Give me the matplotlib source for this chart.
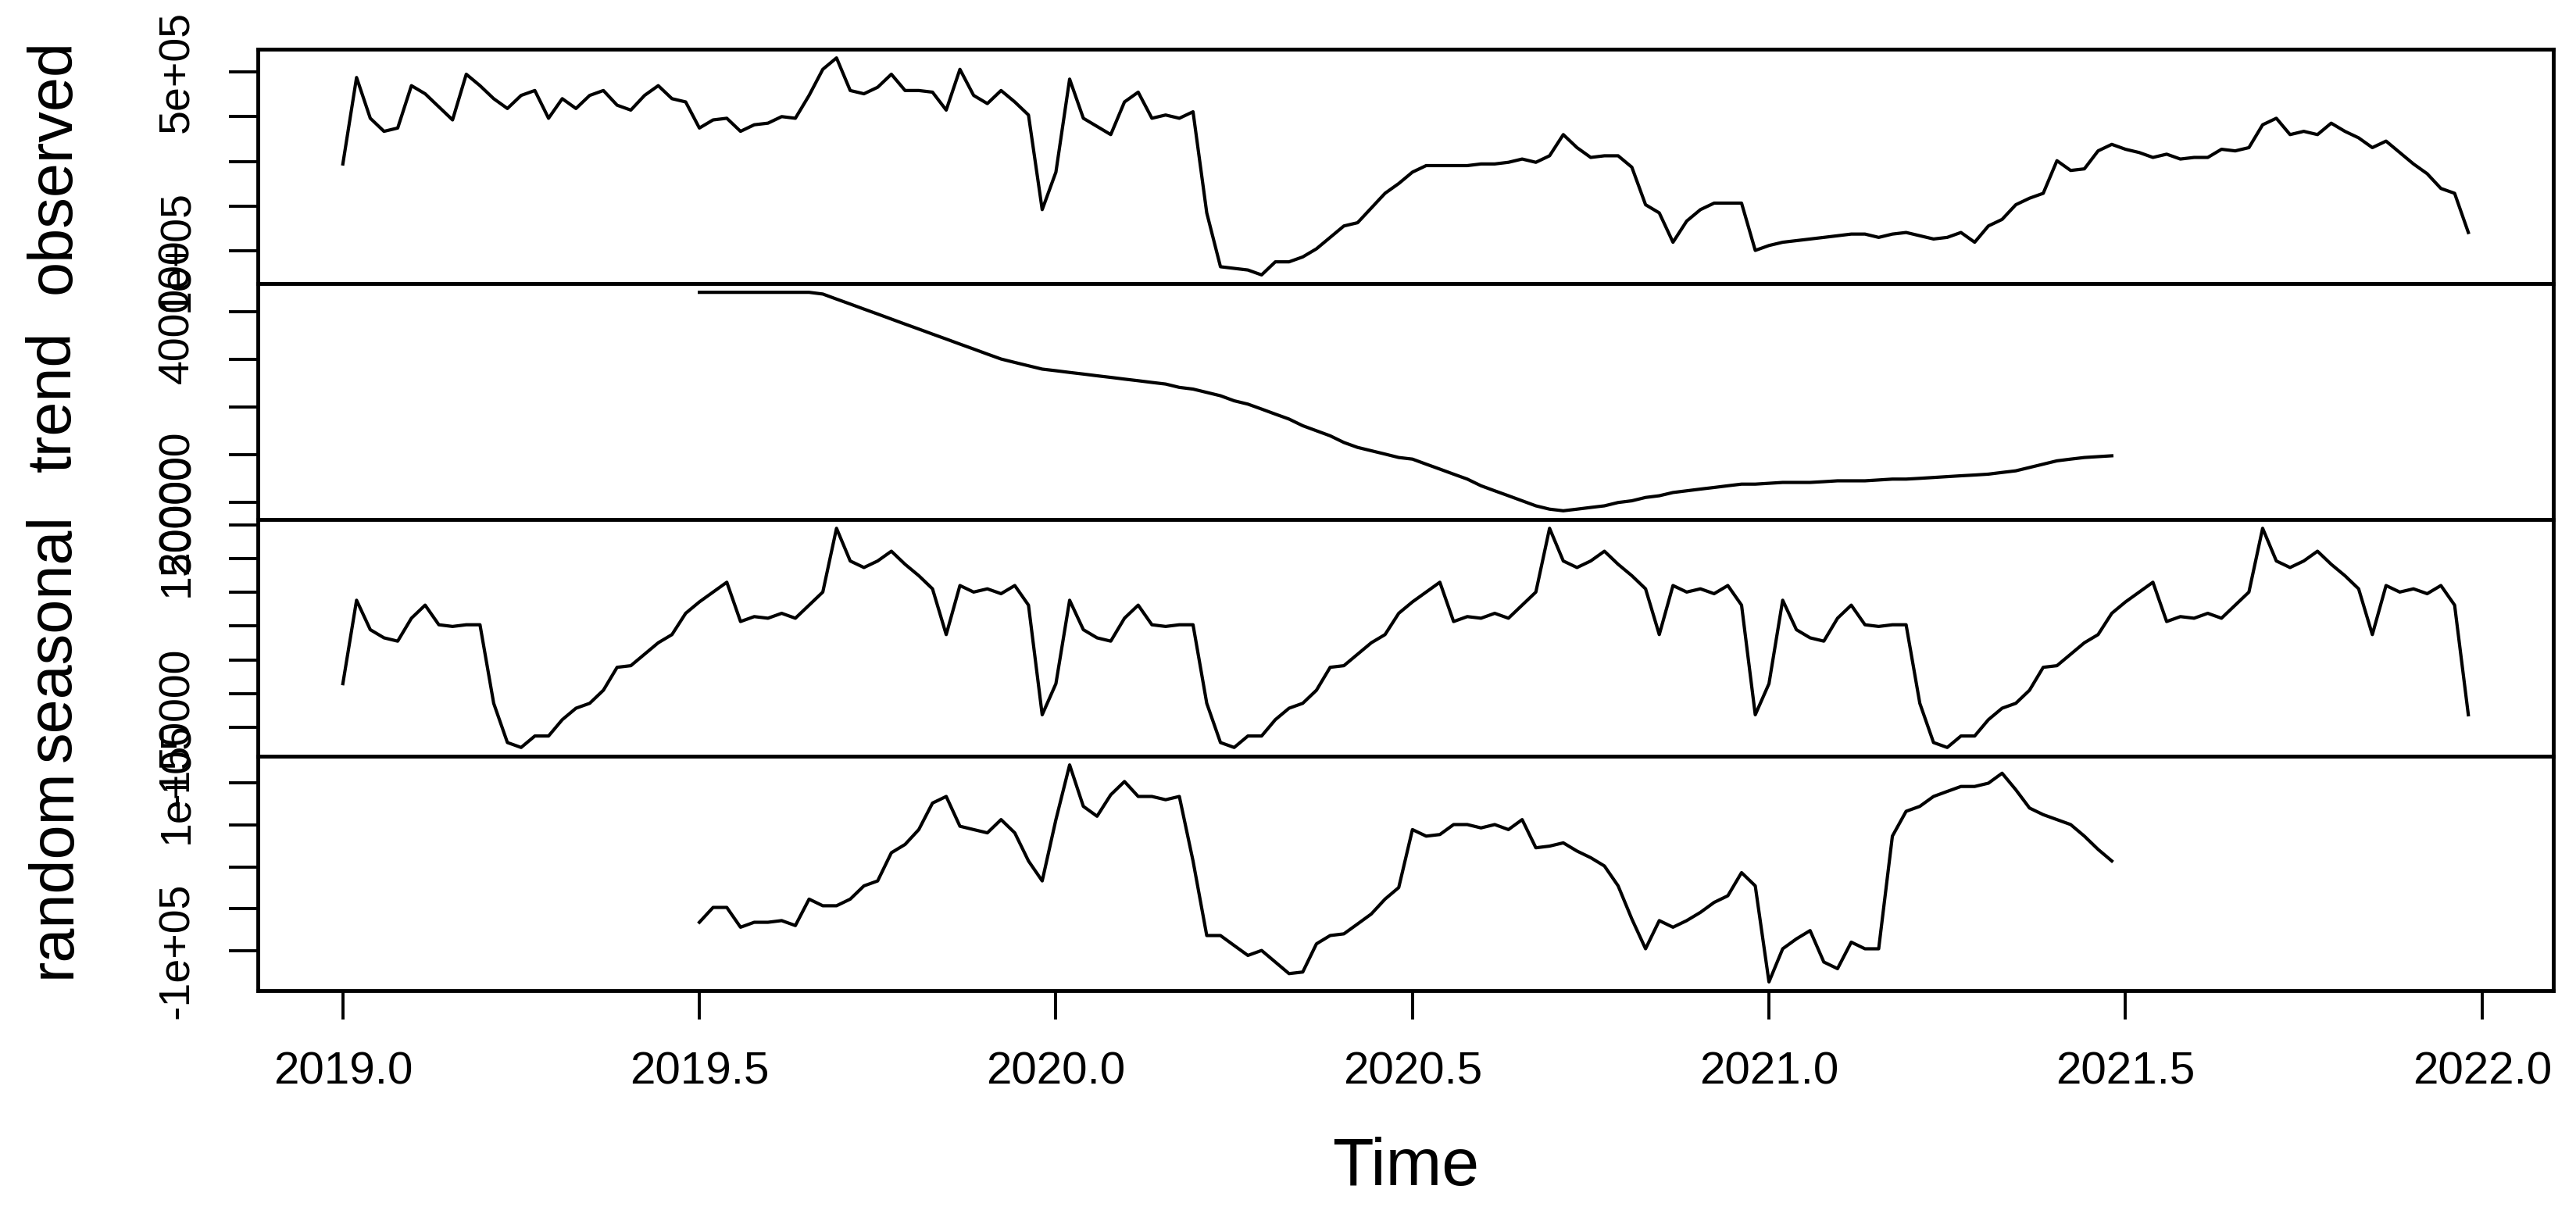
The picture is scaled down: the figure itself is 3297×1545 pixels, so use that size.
import numpy as np
import matplotlib
matplotlib.use("Agg")
import matplotlib.pyplot as plt

# ---------------- data (values in thousands) ----------------
start_year = 2019.0
frequency = 52
trend_offset = 26  # first non-NA index of trend / random

observed_k = [
    294.3, 488.1, 396.7, 367.4, 374.8, 469.8, 451.6, 422.3, 393.0, 495.4,
    469.8, 440.6, 418.6, 447.9, 458.9, 396.7, 440.6, 418.6, 447.9, 458.9,
    426.0, 415.0, 447.9, 469.8, 440.6, 433.3, 374.8, 393.0, 396.7, 367.4,
    382.1, 385.7, 400.4, 396.7, 447.9, 506.4, 532.0, 458.9, 451.6, 466.2,
    495.4, 458.9, 458.9, 455.2, 415.0, 506.4, 447.9, 429.6, 458.9, 433.3,
    404.0, 191.9,
    276.0, 484.5, 396.7, 378.4, 360.1, 433.3, 455.2, 396.7, 404.0, 396.7,
    411.3, 184.6, 63.9, 60.3, 56.6, 45.6, 74.9, 74.9, 85.9, 104.1,
    129.7, 155.3, 162.6, 195.6, 228.5, 250.4, 276.0, 290.6, 290.6, 290.6,
    290.6, 294.3, 294.3, 298.0, 305.3, 298.0, 312.6, 360.1, 330.9, 308.9,
    312.6, 312.6, 287.0, 202.9, 184.6, 118.8, 166.3, 191.9, 206.5, 206.5,
    206.5, 100.5,
    111.5, 118.8, 122.4, 126.1, 129.7, 133.4, 137.1, 137.1, 129.7, 137.1,
    140.7, 133.4, 126.1, 129.7, 140.7, 118.8, 155.3, 170.0, 202.9, 217.5,
    228.5, 301.6, 279.7, 283.3, 323.6, 338.2, 327.2, 319.9, 308.9, 316.2,
    305.3, 308.9, 308.9, 327.2, 323.6, 330.9, 382.1, 396.7, 360.1, 367.4,
    360.1, 385.7, 367.4, 352.8, 330.9, 345.5, 319.9, 294.3, 272.4, 239.4,
    228.5, 140.7,
]

trend_k = [
    420.4, 420.4, 420.4, 420.4, 420.4, 420.4, 420.4, 420.4, 420.4, 418.6,
    413.3, 408.1, 402.8, 397.6, 392.3, 387.0, 381.8, 376.5, 371.3, 366.0,
    360.8, 355.5, 350.3, 346.7, 343.2, 339.7, 338.0, 336.2, 334.5, 332.7,
    331.0, 329.2, 327.5, 325.7, 324.0, 320.5, 318.7, 315.2, 311.7, 306.4,
    302.9, 297.7, 292.4, 287.2, 280.2, 274.9, 269.6, 262.6, 257.4, 253.9,
    250.4, 246.8, 245.1, 239.8, 234.6, 229.3, 224.1, 217.1, 211.8, 206.6,
    201.3, 196.0, 192.5, 190.8, 192.5, 194.3, 196.0, 199.5, 201.3, 204.8,
    206.6, 210.0, 211.8, 213.6, 215.3, 217.1, 218.8, 218.8, 219.7, 220.6,
    220.6, 220.6, 221.4, 222.3, 222.3, 222.3, 223.2, 224.1, 224.1, 224.9,
    225.8, 226.7, 227.6, 228.4, 229.3, 231.1, 232.8, 236.3, 239.8, 243.3,
    245.1, 246.8, 247.7, 248.6,
]

seasonal_cycle_k = [
    -85.5, 38.3, -5.4, -17.5, -22.4, 11.6, 31.0, 1.9, -0.6, 1.9,
    1.9, -114.6, -172.8, -180.1, -163.1, -163.1, -138.9, -121.9, -114.6, -95.2,
    -61.2, -58.8, -41.8, -24.8, -12.7, 18.9, 35.8, 50.4, 65.0, 6.7,
    14.0, 11.6, 18.9, 11.6, 31.0, 50.4, 145.0, 96.5, 86.8, 96.5,
    111.0, 91.6, 74.7, 55.2, -12.7, 60.1, 50.4, 55.2, 48.0, 60.1,
    31.0, -131.6,
]

random_k = [
    -66.0, -48.3, -48.3, -71.9, -66.0, -66.0, -64.0, -69.9, -38.4, -46.3,
    -46.3, -38.4, -22.6, -16.7, 16.9, 26.8, 44.5, 76.1, 84.0, 48.5,
    44.5, 40.6, 56.4, 40.6, 7.1, -16.7, 56.4, 121.6, 72.2, 60.4,
    86.0, 101.8, 84.0, 84.0, 80.1, 84.0, 7.1, -81.8, -81.8, -93.7,
    -105.5, -99.6, -113.4, -127.2, -125.3, -91.7, -81.8, -79.8, -68.0, -56.1,
    -38.4, -24.6, 44.5, 36.7, 38.6, 50.5, 50.5, 46.5, 50.5, 44.5,
    56.4, 22.8, 24.8, 28.7, 18.9, 11.0, 1.1, -22.6, -62.1, -97.6,
    -64.0, -71.9, -64.0, -54.2, -42.3, -34.4, -6.8, -22.6, -137.1, -97.6,
    -85.8, -75.9, -113.4, -121.3, -89.7, -97.6, -97.6, 36.7, 66.3, 72.2,
    84.0, 90.0, 95.9, 95.9, 99.8, 111.7, 92.0, 70.2, 62.3, 56.4,
    50.5, 36.7, 20.9, 7.1,
]

panel_names = ["observed", "trend", "seasonal", "random"]

x_ticks = [2019.0, 2019.5, 2020.0, 2020.5, 2021.0, 2021.5, 2022.0]
x_tick_labels = ["2019.0", "2019.5", "2020.0", "2020.5", "2021.0", "2021.5", "2022.0"]
x_label = "Time"

obs_yticks = [100000, 200000, 300000, 400000, 500000]
obs_ylabels = ["1e+05", "", "", "", "5e+05"]
trend_yticks = [200000, 250000, 300000, 350000, 400000]
trend_ylabels = ["200000", "", "", "", "400000"]
seas_yticks = [-150000, -100000, -50000, 0, 50000, 100000, 150000]
seas_ylabels = ["-150000", "", "", "", "", "", "150000"]
rand_yticks = [-100000, -50000, 0, 50000, 100000]
rand_ylabels = ["-1e+05", "", "", "", "1e+05"]

# ---------------- build series ----------------
observed = np.array(observed_k) * 1000.0
n = len(observed)
t_all = start_year + np.arange(n) / frequency
trend = np.array(trend_k) * 1000.0
t_trend = t_all[trend_offset:trend_offset + len(trend)]
seasonal = np.tile(np.array(seasonal_cycle_k) * 1000.0, n // frequency)
random_part = np.array(random_k) * 1000.0

series = [(t_all, observed), (t_trend, trend), (t_all, seasonal), (t_trend, random_part)]
ticks = [(obs_yticks, obs_ylabels), (trend_yticks, trend_ylabels),
         (seas_yticks, seas_ylabels), (rand_yticks, rand_ylabels)]

# ---------------- figure ----------------
plt.rcParams['font.family'] = ['Liberation Sans', 'DejaVu Sans']
W, H, DPI = 3297, 1545, 100
fig = plt.figure(figsize=(W / DPI, H / DPI), dpi=DPI)

left_px, right_px = 330, 3268
edges_px = [63, 363, 665, 968, 1268]

xr = t_all[-1] - t_all[0]
xlim = (t_all[0] - 0.04 * xr, t_all[-1] + 0.04 * xr)

ytick_fs = 40
xtick_fs = 42
label_fs = 57
lw_data = 3.0
lw_frame = 3.5

for k, ((tx, vy), (yt, yl), name) in enumerate(zip(series, ticks, panel_names)):
    top, bot = edges_px[k], edges_px[k + 1]
    ax = fig.add_axes([left_px / W, 1 - bot / H, (right_px - left_px) / W, (bot - top) / H])
    ax.plot(tx, vy, color='black', lw=lw_data, solid_joinstyle='round')
    lo, hi = np.nanmin(vy), np.nanmax(vy)
    pad = 0.04 * (hi - lo)
    ax.set_ylim(lo - pad, hi + pad)
    ax.set_xlim(*xlim)
    for sp in ax.spines.values():
        sp.set_linewidth(lw_frame)
        sp.set_color('black')
    ax.set_yticks(yt)
    ax.set_yticklabels(yl)
    ax.tick_params(axis='y', length=26.5, width=2.8, pad=29, labelsize=ytick_fs,
                   labelrotation=90, colors='black')
    for lab in ax.get_yticklabels():
        lab.set_va('center')
        lab.set_ha('right')
    if k == 3:
        ax.set_xticks(x_ticks)
        ax.set_xticklabels(x_tick_labels)
        ax.tick_params(axis='x', length=26.5, width=2.8, pad=29, labelsize=xtick_fs,
                       colors='black')
    else:
        ax.set_xticks([])
    # panel name on the far left
    cy = 1 - (top + bot) / 2 / H
    fig.text(69 / W, cy, name, rotation=90, ha='center', va='center',
             fontsize=label_fs, color='black')

fig.text((left_px + right_px) / 2 / W, 1 - 1495 / H, x_label, ha='center', va='center',
         fontsize=62, color='black')

fig.savefig("out.png", dpi=DPI, facecolor='white')
